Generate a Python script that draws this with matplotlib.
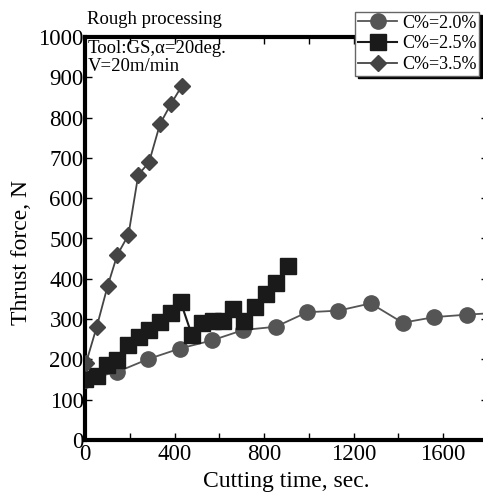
import matplotlib
matplotlib.use("Agg")
import matplotlib.pyplot as plt
from matplotlib.ticker import MultipleLocator

plt.rcParams['font.family'] = ['Liberation Serif', 'DejaVu Serif']
plt.rcParams['mathtext.fontset'] = 'stix'

t_c20 = [0, 144, 283, 424, 566, 707, 852, 992, 1132, 1276, 1419, 1561, 1705, 1850]
v_c20 = [150, 169, 201, 227, 247, 273, 281, 317, 321, 339, 291, 305, 311, 316]

t_c25 = [0, 52, 97, 144, 194, 241, 288, 335, 383, 427, 477, 524, 570, 618, 663, 712, 760, 807, 853, 906]
v_c25 = [151, 159, 186, 199, 236, 255, 273, 294, 314, 343, 261, 290, 295, 295, 324, 295, 331, 362, 389, 432]

t_c35 = [4, 52, 101, 144, 194, 238, 286, 335, 383, 432]
v_c35 = [190, 280, 382, 459, 509, 658, 689, 784, 833, 878]

labels = ['C%=2.0%', 'C%=2.5%', 'C%=3.5%']

W, H = 483, 494
fig = plt.figure(figsize=(W / 100, H / 100), dpi=100)
ax = fig.add_axes([85 / W, 54 / H, 403 / W, 403 / H])
ax.set_xlim(0, 1800)
ax.set_ylim(0, 1000)

ax.plot(t_c20, v_c20, '-o', color='#555555', lw=1.3, ms=11, mfc='#555555', mec='#555555', label=labels[0], zorder=3)
ax.plot(t_c25, v_c25, '-s', color='#1a1a1a', lw=1.5, ms=12, mfc='#1a1a1a', mec='#1a1a1a', label=labels[1], zorder=4)
ax.plot(t_c35, v_c35, '-D', color='#444444', lw=1.3, ms=8.5, mfc='#444444', mec='#444444', label=labels[2], zorder=5)

for s in ['left', 'bottom', 'top']:
    ax.spines[s].set_linewidth(3)
ax.spines['right'].set_visible(False)

ax.xaxis.set_major_locator(MultipleLocator(400))
ax.xaxis.set_minor_locator(MultipleLocator(200))
ax.yaxis.set_major_locator(MultipleLocator(100))
ax.tick_params(axis='both', which='both', direction='in', top=True, right=True, labelsize=16.5, width=1, length=5)
ax.tick_params(axis='y', pad=1)
ax.tick_params(axis='x', pad=3)

fig.text(286 / W, 1 - 481 / H, 'Cutting time, sec.', fontsize=17, ha='center', va='center')
fig.text(22 / W, 1 - 252 / H, 'Thrust force, N', fontsize=17, rotation=90, ha='center', va='center')

fig.text(87 / W, 1 - 20 / H, 'Rough processing', fontsize=13.5, va='center', ha='left')
ax.text(3 / 403, 1 - 3 / 403, 'Tool:GS,α=20deg.\nV=20m/min', transform=ax.transAxes,
        fontsize=13.5, va='top', ha='left', linespacing=1.05)

leg = ax.legend(loc='upper left', bbox_to_anchor=((355 - 85) / 403, 1 + 25 / 403), fontsize=13,
                frameon=True, fancybox=False, shadow={'color': 'black', 'alpha': 1},
                edgecolor='#666666', handlelength=2.2, handletextpad=0.25,
                borderpad=0.15, labelspacing=0.2, borderaxespad=0)
leg.get_frame().set_linewidth(1)
leg.set_zorder(10)

fig.savefig('out.png', dpi=100)
